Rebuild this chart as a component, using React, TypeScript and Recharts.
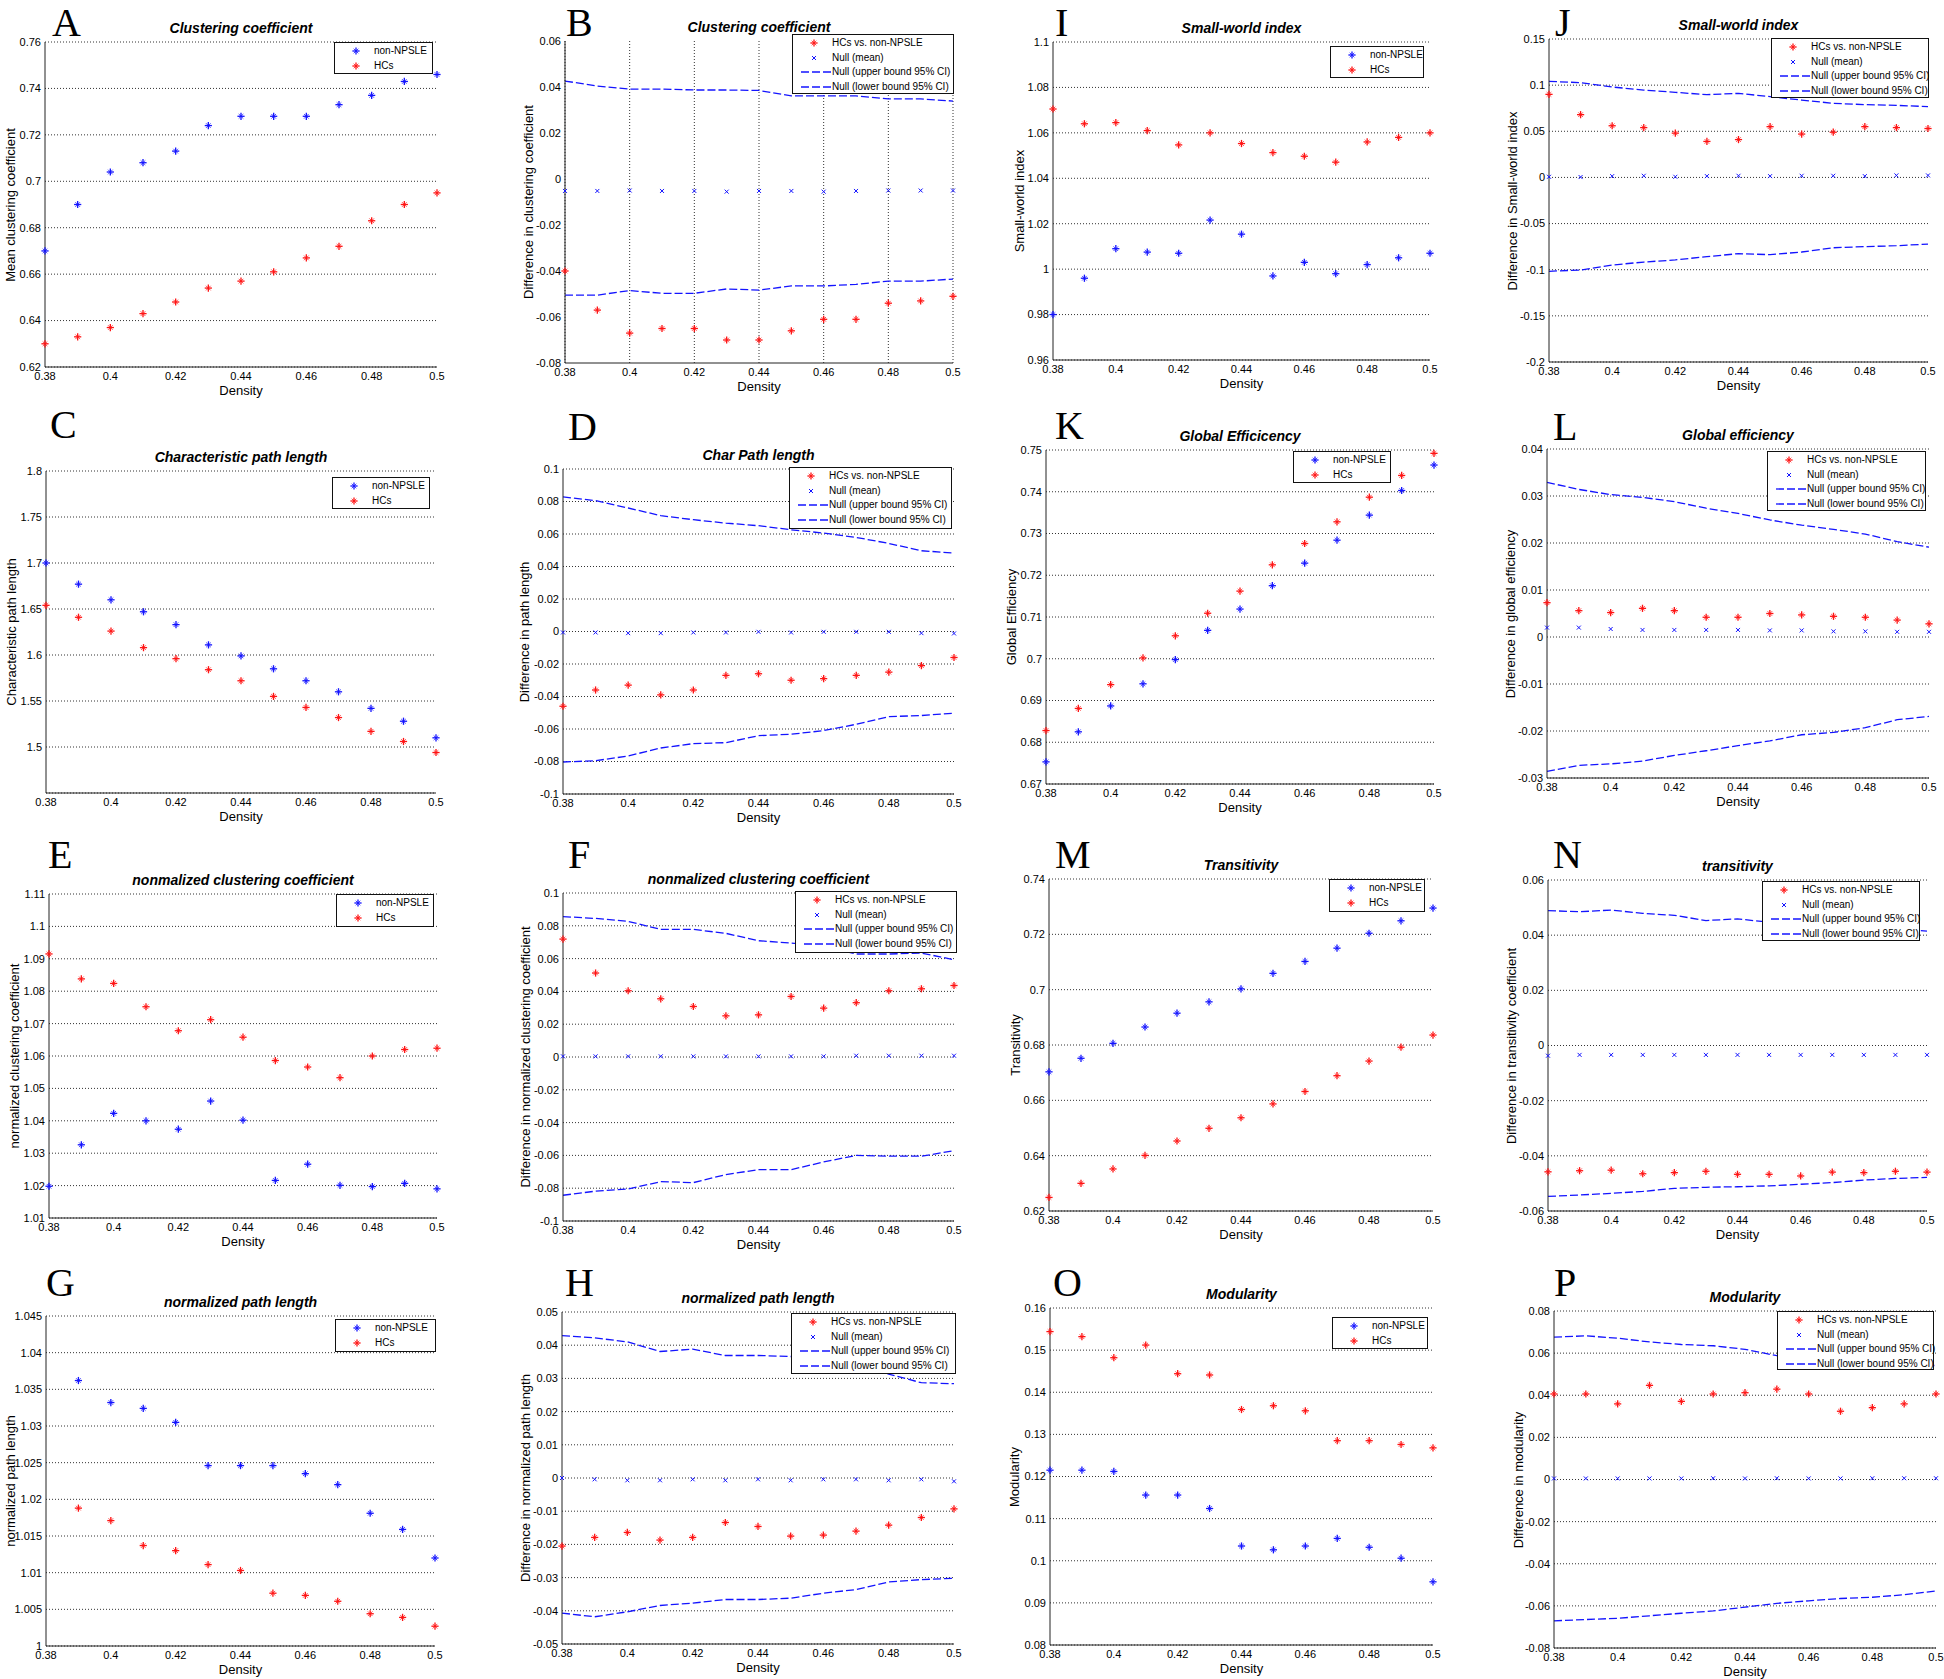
import React from "react";
import { ComposedChart, Scatter, Line, XAxis, YAxis, CartesianGrid } from "recharts";

const BLUE = "#1414ff";
const RED = "#ff1414";
const FONT = "'Liberation Sans', Arial, Helvetica, sans-serif";

// shared x values
const density = [0.38, 0.39, 0.4, 0.41, 0.42, 0.43, 0.44, 0.45, 0.46, 0.47, 0.48, 0.49, 0.5];
const densityTicks = [0.38, 0.4, 0.42, 0.44, 0.46, 0.48, 0.5];

// A / B  clustering coefficient
const clustNonNPSLE = [0.67, 0.69, 0.704, 0.708, 0.713, 0.724, 0.728, 0.728, 0.728, 0.733, 0.737, 0.743, 0.746];
const clustHCs = [0.63, 0.633, 0.637, 0.643, 0.648, 0.654, 0.657, 0.661, 0.667, 0.672, 0.683, 0.69, 0.695];
const clustTicks = [0.62, 0.64, 0.66, 0.68, 0.7, 0.72, 0.74, 0.76];
const clustDiff = [-0.04, -0.057, -0.067, -0.065, -0.065, -0.07, -0.07, -0.066, -0.061, -0.061, -0.054, -0.053, -0.051];
const clustNullMean = [-0.0052, -0.0052, -0.005, -0.0052, -0.0052, -0.0055, -0.0052, -0.0052, -0.0055, -0.0052, -0.005, -0.005, -0.005];
const clustNullUpper = [0.0426, 0.0404, 0.0391, 0.0391, 0.0387, 0.0387, 0.0385, 0.0361, 0.0361, 0.0361, 0.0348, 0.0348, 0.0339];
const clustNullLower = [-0.0505, -0.0505, -0.0485, -0.0497, -0.0497, -0.0478, -0.0483, -0.0465, -0.0465, -0.0458, -0.0444, -0.0444, -0.0435];
const clustDiffTicks = [-0.08, -0.06, -0.04, -0.02, 0, 0.02, 0.04, 0.06];

// I / J  small-world index
const swNonNPSLE = [0.98, 0.996, 1.009, 1.0075, 1.007, 1.0216, 1.0154, 0.997, 1.003, 0.998, 1.002, 1.005, 1.007];
const swHCs = [1.0705, 1.064, 1.0645, 1.061, 1.0547, 1.06, 1.0553, 1.0513, 1.0497, 1.0471, 1.056, 1.058, 1.06];
const swTicks = [0.96, 0.98, 1, 1.02, 1.04, 1.06, 1.08, 1.1];
const swDiff = [0.09, 0.068, 0.056, 0.054, 0.048, 0.039, 0.041, 0.055, 0.047, 0.049, 0.055, 0.054, 0.053];
const swNullMean = [0.0007, 0.0004, 0.0014, 0.0018, 0.0007, 0.0014, 0.0018, 0.0014, 0.0018, 0.0018, 0.0014, 0.0022, 0.0022];
const swNullUpper = [0.1041, 0.1027, 0.098, 0.0947, 0.0922, 0.0897, 0.0911, 0.0875, 0.0838, 0.0803, 0.0789, 0.0781, 0.0767];
const swNullLower = [-0.1017, -0.1003, -0.0949, -0.0917, -0.0894, -0.0858, -0.0826, -0.0837, -0.0808, -0.0762, -0.075, -0.074, -0.0722];
const swDiffTicks = [-0.2, -0.15, -0.1, -0.05, 0, 0.05, 0.1, 0.15];

// C / D  characteristic path length
const cplNonNPSLE = [1.7, 1.677, 1.66, 1.647, 1.633, 1.611, 1.599, 1.585, 1.572, 1.56, 1.542, 1.528, 1.51];
const cplHCs = [1.654, 1.641, 1.626, 1.608, 1.596, 1.584, 1.572, 1.555, 1.543, 1.532, 1.517, 1.506, 1.494];
const cplTicks = [1.5, 1.55, 1.6, 1.65, 1.7, 1.75, 1.8];
const cplDiff = [-0.046, -0.036, -0.033, -0.039, -0.036, -0.027, -0.026, -0.03, -0.029, -0.027, -0.025, -0.021, -0.016];
const cplNullMean = [-0.0006, -0.0006, -0.001, -0.001, -0.0006, -0.0006, -0.0002, -0.0006, -0.0002, -0.0002, -0.0002, -0.001, -0.0012];
const cplNullUpper = [0.0828, 0.0805, 0.076, 0.0713, 0.0688, 0.0667, 0.0651, 0.0626, 0.0606, 0.0579, 0.0542, 0.0497, 0.0483];
const cplNullLower = [-0.0803, -0.0795, -0.0766, -0.0717, -0.069, -0.0684, -0.0641, -0.0632, -0.061, -0.0571, -0.0524, -0.0517, -0.0503];
const tenthTicks = [-0.1, -0.08, -0.06, -0.04, -0.02, 0, 0.02, 0.04, 0.06, 0.08, 0.1];

// K / L  global efficiency
const geNonNPSLE = [0.6753, 0.6825, 0.6887, 0.694, 0.6998, 0.7068, 0.7119, 0.7175, 0.7229, 0.7284, 0.7344, 0.7403, 0.7464];
const geHCs = [0.6828, 0.6881, 0.6938, 0.7002, 0.7055, 0.7109, 0.7162, 0.7225, 0.7276, 0.7328, 0.7387, 0.7439, 0.7492];
const geTicks = [0.67, 0.68, 0.69, 0.7, 0.71, 0.72, 0.73, 0.74, 0.75];
const geDiff = [0.0073, 0.0056, 0.0052, 0.0061, 0.0056, 0.0042, 0.0042, 0.005, 0.0047, 0.0044, 0.0042, 0.0036, 0.0028];
const geNullMean = [0.002, 0.002, 0.0017, 0.0015, 0.0015, 0.0015, 0.0015, 0.0014, 0.0014, 0.0012, 0.0012, 0.0011, 0.0011];
const geNullUpper = [0.0329, 0.0314, 0.0303, 0.0297, 0.0288, 0.0274, 0.0263, 0.0249, 0.0238, 0.0229, 0.0219, 0.0203, 0.0191];
const geNullLower = [-0.0286, -0.0273, -0.027, -0.0264, -0.0252, -0.0242, -0.0231, -0.0221, -0.0208, -0.0203, -0.0193, -0.0176, -0.0169];
const geDiffTicks = [-0.03, -0.02, -0.01, 0, 0.01, 0.02, 0.03, 0.04];

// E / F  normalized clustering coefficient
const nccNonNPSLE = [1.0198, 1.0326, 1.0423, 1.04, 1.0374, 1.0461, 1.0402, 1.0216, 1.0266, 1.0201, 1.0197, 1.0207, 1.019];
const nccHCs = [1.0915, 1.0838, 1.0824, 1.0752, 1.0678, 1.0712, 1.0658, 1.0586, 1.0566, 1.0533, 1.06, 1.062, 1.0624];
const nccTicks = [1.01, 1.02, 1.03, 1.04, 1.05, 1.06, 1.07, 1.08, 1.09, 1.1, 1.11];
const nccDiff = [0.0719, 0.0512, 0.0404, 0.0355, 0.0308, 0.0251, 0.0257, 0.0369, 0.0298, 0.0331, 0.0404, 0.0416, 0.0436];
const nccNullMean = [0.0004, 0.0004, 0.0004, 0.0004, 0.0004, 0.0004, 0.0004, 0.0004, 0.0004, 0.0008, 0.0008, 0.0008, 0.0008];
const nccNullUpper = [0.0856, 0.0845, 0.0827, 0.0778, 0.0778, 0.0754, 0.0709, 0.0695, 0.0674, 0.0628, 0.0628, 0.0634, 0.0593];
const nccNullLower = [-0.0843, -0.0818, -0.0805, -0.076, -0.0766, -0.0717, -0.0687, -0.0687, -0.064, -0.06, -0.0605, -0.0605, -0.0571];

// M / N  transitivity
const transNonNPSLE = [0.6703, 0.6752, 0.6806, 0.6865, 0.6915, 0.6956, 0.7003, 0.7059, 0.7102, 0.715, 0.7204, 0.7249, 0.7295];
const transHCs = [0.6249, 0.63, 0.6352, 0.6401, 0.6453, 0.6499, 0.6537, 0.6587, 0.6632, 0.6689, 0.6742, 0.6792, 0.6836];
const transTicks = [0.62, 0.64, 0.66, 0.68, 0.7, 0.72, 0.74];
const transDiff = [-0.0458, -0.0454, -0.0452, -0.0465, -0.0461, -0.0456, -0.0467, -0.0467, -0.0473, -0.0459, -0.0461, -0.0456, -0.0459];
const transNullMean = [-0.0037, -0.0034, -0.0034, -0.0034, -0.0034, -0.0034, -0.0034, -0.0034, -0.0034, -0.0034, -0.0034, -0.0034, -0.0034];
const transNullUpper = [0.0489, 0.0485, 0.0491, 0.0479, 0.0472, 0.0453, 0.0459, 0.0447, 0.044, 0.0433, 0.0429, 0.0421, 0.0415];
const transNullLower = [-0.0547, -0.0542, -0.0536, -0.0529, -0.0518, -0.0514, -0.0512, -0.0509, -0.0503, -0.0497, -0.0488, -0.0482, -0.0478];
const transDiffTicks = [-0.06, -0.04, -0.02, 0, 0.02, 0.04, 0.06];

// G / H  normalized path length (no visible point at 0.38 in G)
const nplNonNPSLE = [null, 1.0362, 1.0332, 1.0324, 1.0305, 1.0246, 1.0246, 1.0246, 1.0235, 1.022, 1.0181, 1.0159, 1.012];
const nplHCs = [null, 1.0188, 1.0171, 1.0137, 1.013, 1.0111, 1.0103, 1.0072, 1.0069, 1.0061, 1.0044, 1.0039, 1.0027];
const nplTicks = [1, 1.005, 1.01, 1.015, 1.02, 1.025, 1.03, 1.035, 1.04, 1.045];
const nplDiff = [-0.0205, -0.0179, -0.0164, -0.0187, -0.0179, -0.0134, -0.0146, -0.0175, -0.0172, -0.016, -0.0142, -0.0119, -0.0093];
const nplNullMean = [0, -0.0004, -0.0007, -0.0007, -0.0004, -0.0007, -0.0004, -0.0007, -0.0004, -0.0004, -0.0007, -0.0004, -0.001];
const nplNullUpper = [0.0429, 0.0422, 0.041, 0.0381, 0.0388, 0.0369, 0.0369, 0.0366, 0.0358, 0.0354, 0.0313, 0.0287, 0.0284];
const nplNullLower = [-0.0407, -0.0418, -0.0403, -0.0384, -0.0377, -0.0366, -0.0366, -0.0362, -0.0347, -0.0336, -0.0313, -0.0306, -0.0302];
const nplDiffTicks = [-0.05, -0.04, -0.03, -0.02, -0.01, 0, 0.01, 0.02, 0.03, 0.04, 0.05];

// O / P  modularity
const modNonNPSLE = [0.1215, 0.1215, 0.1212, 0.1156, 0.1156, 0.1124, 0.1035, 0.1026, 0.1035, 0.1053, 0.1032, 0.1006, 0.095];
const modHCs = [0.1544, 0.1532, 0.1482, 0.1512, 0.1444, 0.1441, 0.1359, 0.1368, 0.1356, 0.1285, 0.1285, 0.1276, 0.1268];
const modTicks = [0.08, 0.09, 0.1, 0.11, 0.12, 0.13, 0.14, 0.15, 0.16];
const modDiff = [0.0406, 0.0406, 0.0359, 0.0447, 0.0371, 0.0406, 0.0412, 0.0429, 0.0406, 0.0324, 0.0341, 0.0359, 0.0406];
const modNullMean = [0.0005, 0.0005, 0.0005, 0.0005, 0.0005, 0.0006, 0.0005, 0.0006, 0.0005, 0.0005, 0.0006, 0.0006, 0.0006];
const modNullUpper = [0.0676, 0.0682, 0.0671, 0.0653, 0.0641, 0.0635, 0.0618, 0.0588, 0.0576, 0.0565, 0.0559, 0.0547, 0.0541];
const modNullLower = [-0.0671, -0.0665, -0.0659, -0.0647, -0.0635, -0.0624, -0.0606, -0.0588, -0.0576, -0.0565, -0.0559, -0.0547, -0.0529];
const modDiffTicks = [-0.08, -0.06, -0.04, -0.02, 0, 0.02, 0.04, 0.06, 0.08];

const fmt = (v: number) => String(parseFloat(v.toFixed(4)));

const AX_L = 60;
const AX_R = 14;
const AX_T = 10;
const AX_B = 24;

type Box = { x: number; y: number; w: number; h: number };
type Series = (number | null)[];

type PanelCfg = {
  letter: string;
  letterX: number;
  letterBase: number;
  title: string;
  yLabel: string;
  yLabelX: number;
  plot: Box;
  legend: Box;
  domain: [number, number];
  ticks: number[];
  blue?: Series;
  red: Series;
  mean?: Series;
  upper?: Series;
  lower?: Series;
  xGrid?: boolean;
};

function Asterisk({ cx, cy, color }: { cx?: number; cy?: number; color: string }) {
  if (cx == null || cy == null || isNaN(cx) || isNaN(cy)) return <g />;
  const a = 3.6;
  const d = 2.3;
  return (
    <g stroke={color} strokeWidth={1.3}>
      <line x1={cx - a} y1={cy} x2={cx + a} y2={cy} />
      <line x1={cx} y1={cy - a} x2={cx} y2={cy + a} />
      <line x1={cx - d} y1={cy - d} x2={cx + d} y2={cy + d} strokeWidth={0.8} />
      <line x1={cx - d} y1={cy + d} x2={cx + d} y2={cy - d} strokeWidth={0.8} />
    </g>
  );
}

function Cross({ cx, cy, color }: { cx?: number; cy?: number; color: string }) {
  if (cx == null || cy == null || isNaN(cx) || isNaN(cy)) return <g />;
  const d = 2;
  return (
    <g stroke={color} strokeWidth={1}>
      <line x1={cx - d} y1={cy - d} x2={cx + d} y2={cy + d} />
      <line x1={cx - d} y1={cy + d} x2={cx + d} y2={cy - d} />
    </g>
  );
}

type LegendItem = { mark: "star" | "cross" | "dash"; color: string; label: string };
const groupLegend: LegendItem[] = [
  { mark: "star", color: BLUE, label: "non-NPSLE" },
  { mark: "star", color: RED, label: "HCs" },
];
const diffLegend: LegendItem[] = [
  { mark: "star", color: RED, label: "HCs vs. non-NPSLE" },
  { mark: "cross", color: BLUE, label: "Null (mean)" },
  { mark: "dash", color: BLUE, label: "Null (upper bound 95% CI)" },
  { mark: "dash", color: BLUE, label: "Null (lower bound 95% CI)" },
];

function LegendBox({ box, items }: { box: Box; items: LegendItem[] }) {
  return (
    <div
      style={{
        position: "absolute",
        left: box.x,
        top: box.y,
        width: box.w,
        height: box.h,
        border: "1px solid #111",
        background: "#fff",
        boxSizing: "border-box",
      }}
    >
      {items.map((it, i) => (
        <div key={i} style={{ position: "absolute", left: 0, top: 8 + i * 14.5 - 7, width: "100%", height: 14 }}>
          <svg width={40} height={14} style={{ position: "absolute", left: 0, top: 0 }}>
            {it.mark === "star" && <Asterisk cx={21} cy={7} color={it.color} />}
            {it.mark === "cross" && <Cross cx={21} cy={7} color={it.color} />}
            {it.mark === "dash" && (
              <line x1={8} x2={38} y1={7} y2={7} stroke={it.color} strokeWidth={1.3} strokeDasharray="8 3" />
            )}
          </svg>
          <span style={{ position: "absolute", left: 39, top: 0, lineHeight: "14px", fontSize: 10, whiteSpace: "nowrap" }}>
            {it.label}
          </span>
        </div>
      ))}
    </div>
  );
}

const panels: PanelCfg[] = [
  {
    letter: "A", letterX: 52, letterBase: 36, title: "Clustering coefficient", yLabel: "Mean clustering coefficient", yLabelX: 10,
    plot: { x: 45, y: 42, w: 392, h: 325 }, legend: { x: 334, y: 42, w: 99, h: 32 },
    domain: [0.62, 0.76], ticks: clustTicks, blue: clustNonNPSLE, red: clustHCs,
  },
  {
    letter: "B", letterX: 566, letterBase: 36, title: "Clustering coefficient", yLabel: "Difference in clustering coefficient", yLabelX: 528,
    plot: { x: 565, y: 41, w: 388, h: 322 }, legend: { x: 792, y: 34, w: 162, h: 60 },
    domain: [-0.08, 0.06], ticks: clustDiffTicks, red: clustDiff, mean: clustNullMean, upper: clustNullUpper, lower: clustNullLower, xGrid: true,
  },
  {
    letter: "I", letterX: 1055, letterBase: 36, title: "Small-world index", yLabel: "Small-world index", yLabelX: 1019,
    plot: { x: 1053, y: 42, w: 377, h: 318 }, legend: { x: 1330, y: 46, w: 94, h: 32 },
    domain: [0.96, 1.1], ticks: swTicks, blue: swNonNPSLE, red: swHCs,
  },
  {
    letter: "J", letterX: 1555, letterBase: 36, title: "Small-world index", yLabel: "Difference in Small-world index", yLabelX: 1512,
    plot: { x: 1549, y: 39, w: 379, h: 323 }, legend: { x: 1771, y: 38, w: 158, h: 60 },
    domain: [-0.2, 0.15], ticks: swDiffTicks, red: swDiff, mean: swNullMean, upper: swNullUpper, lower: swNullLower,
  },
  {
    letter: "C", letterX: 50, letterBase: 438, title: "Characteristic path length", yLabel: "Characteristic path length", yLabelX: 11,
    plot: { x: 46, y: 471, w: 390, h: 322 }, legend: { x: 332, y: 477, w: 98, h: 32 },
    domain: [1.45, 1.8], ticks: cplTicks, blue: cplNonNPSLE, red: cplHCs,
  },
  {
    letter: "D", letterX: 568, letterBase: 440, title: "Char Path length", yLabel: "Difference in path length", yLabelX: 524,
    plot: { x: 563, y: 469, w: 391, h: 325 }, legend: { x: 789, y: 467, w: 163, h: 62 },
    domain: [-0.1, 0.1], ticks: tenthTicks, red: cplDiff, mean: cplNullMean, upper: cplNullUpper, lower: cplNullLower,
  },
  {
    letter: "K", letterX: 1055, letterBase: 439, title: "Global Efficicency", yLabel: "Global Efficiency", yLabelX: 1011,
    plot: { x: 1046, y: 450, w: 388, h: 334 }, legend: { x: 1293, y: 451, w: 98, h: 32 },
    domain: [0.67, 0.75], ticks: geTicks, blue: geNonNPSLE, red: geHCs,
  },
  {
    letter: "L", letterX: 1553, letterBase: 440, title: "Global efficiency", yLabel: "Difference in global efficiency", yLabelX: 1510,
    plot: { x: 1547, y: 449, w: 382, h: 329 }, legend: { x: 1767, y: 451, w: 159, h: 60 },
    domain: [-0.03, 0.04], ticks: geDiffTicks, red: geDiff, mean: geNullMean, upper: geNullUpper, lower: geNullLower,
  },
  {
    letter: "E", letterX: 48, letterBase: 868, title: "nonmalized clustering coefficient", yLabel: "normalized clustering coefficient", yLabelX: 14,
    plot: { x: 49, y: 894, w: 388, h: 324 }, legend: { x: 336, y: 894, w: 98, h: 33 },
    domain: [1.01, 1.11], ticks: nccTicks, blue: nccNonNPSLE, red: nccHCs,
  },
  {
    letter: "F", letterX: 568, letterBase: 868, title: "nonmalized clustering coefficient", yLabel: "Difference in normalized clustering coefficient", yLabelX: 525,
    plot: { x: 563, y: 893, w: 391, h: 328 }, legend: { x: 795, y: 891, w: 162, h: 62 },
    domain: [-0.1, 0.1], ticks: tenthTicks, red: nccDiff, mean: nccNullMean, upper: nccNullUpper, lower: nccNullLower,
  },
  {
    letter: "M", letterX: 1055, letterBase: 868, title: "Transitivity", yLabel: "Transitivity", yLabelX: 1015,
    plot: { x: 1049, y: 879, w: 384, h: 332 }, legend: { x: 1329, y: 879, w: 96, h: 33 },
    domain: [0.62, 0.74], ticks: transTicks, blue: transNonNPSLE, red: transHCs,
  },
  {
    letter: "N", letterX: 1553, letterBase: 868, title: "transitivity", yLabel: "Difference in transitivity coefficient", yLabelX: 1511,
    plot: { x: 1548, y: 880, w: 379, h: 331 }, legend: { x: 1762, y: 881, w: 158, h: 60 },
    domain: [-0.06, 0.06], ticks: transDiffTicks, red: transDiff, mean: transNullMean, upper: transNullUpper, lower: transNullLower,
  },
  {
    letter: "G", letterX: 46, letterBase: 1296, title: "normalized path length", yLabel: "normalized path length", yLabelX: 10,
    plot: { x: 46, y: 1316, w: 389, h: 330 }, legend: { x: 335, y: 1319, w: 101, h: 33 },
    domain: [1, 1.045], ticks: nplTicks, blue: nplNonNPSLE, red: nplHCs,
  },
  {
    letter: "H", letterX: 565, letterBase: 1296, title: "normalized path length", yLabel: "Difference in normalized path length", yLabelX: 525,
    plot: { x: 562, y: 1312, w: 392, h: 332 }, legend: { x: 791, y: 1313, w: 165, h: 61 },
    domain: [-0.05, 0.05], ticks: nplDiffTicks, red: nplDiff, mean: nplNullMean, upper: nplNullUpper, lower: nplNullLower,
  },
  {
    letter: "O", letterX: 1053, letterBase: 1296, title: "Modularity", yLabel: "Modularity", yLabelX: 1014,
    plot: { x: 1050, y: 1308, w: 383, h: 337 }, legend: { x: 1332, y: 1317, w: 96, h: 32 },
    domain: [0.08, 0.16], ticks: modTicks, blue: modNonNPSLE, red: modHCs,
  },
  {
    letter: "P", letterX: 1554, letterBase: 1296, title: "Modularity", yLabel: "Difference in modularity", yLabelX: 1518,
    plot: { x: 1554, y: 1311, w: 382, h: 337 }, legend: { x: 1777, y: 1311, w: 157, h: 59 },
    domain: [-0.08, 0.08], ticks: modDiffTicks, red: modDiff, mean: modNullMean, upper: modNullUpper, lower: modNullLower,
  },
];

function Panel({ p }: { p: PanelCfg }) {
  const rows = density.map((x, i) => ({
    x,
    blue: p.blue ? p.blue[i] : null,
    red: p.red[i],
    mean: p.mean ? p.mean[i] : null,
    upper: p.upper ? p.upper[i] : null,
    lower: p.lower ? p.lower[i] : null,
  }));
  const midX = p.plot.x + p.plot.w / 2;
  const midY = p.plot.y + p.plot.h / 2;
  const isDiff = !p.blue;
  const tickStyle = { fill: "#000", fontSize: 11 };

  return (
    <>
      <div style={{ position: "absolute", left: p.letterX, top: p.letterBase - 36, fontFamily: "'Liberation Serif', 'Times New Roman', serif", fontSize: 40, lineHeight: "46px" }}>
        {p.letter}
      </div>
      <div style={{ position: "absolute", left: midX, top: p.plot.y - 14, transform: "translate(-50%, -50%)", fontWeight: "bold", fontStyle: "italic", fontSize: 14, whiteSpace: "nowrap" }}>
        {p.title}
      </div>
      <div style={{ position: "absolute", left: p.plot.x - AX_L, top: p.plot.y - AX_T }}>
        <ComposedChart
          width={p.plot.w + AX_L + AX_R}
          height={p.plot.h + AX_T + AX_B}
          data={rows}
          margin={{ top: AX_T, right: AX_R, bottom: 0, left: 0 }}
        >
          <CartesianGrid horizontal={!p.xGrid} vertical={!!p.xGrid} stroke="#333" strokeDasharray="1 2" />
          <XAxis dataKey="x" type="number" domain={[0.38, 0.5]} ticks={densityTicks} interval={0} tickFormatter={fmt}
            height={AX_B} tickSize={0} tickMargin={5} stroke="#222" tick={tickStyle} />
          <YAxis type="number" domain={p.domain} ticks={p.ticks} interval={0} tickFormatter={fmt}
            width={AX_L} tickSize={0} tickMargin={4} stroke="#222" tick={tickStyle} />
          {!isDiff && (
            <Scatter name="non-NPSLE" dataKey="blue" isAnimationActive={false}
              shape={(s: any) => <Asterisk cx={s.cx} cy={s.cy} color={BLUE} />} />
          )}
          <Scatter name={isDiff ? "HCs vs. non-NPSLE" : "HCs"} dataKey="red" isAnimationActive={false}
            shape={(s: any) => <Asterisk cx={s.cx} cy={s.cy} color={RED} />} />
          {isDiff && (
            <Scatter name="Null (mean)" dataKey="mean" isAnimationActive={false}
              shape={(s: any) => <Cross cx={s.cx} cy={s.cy} color={BLUE} />} />
          )}
          {isDiff && (
            <Line dataKey="upper" stroke={BLUE} strokeWidth={1.3} strokeDasharray="8 3" dot={false} isAnimationActive={false} />
          )}
          {isDiff && (
            <Line dataKey="lower" stroke={BLUE} strokeWidth={1.3} strokeDasharray="8 3" dot={false} isAnimationActive={false} />
          )}
        </ComposedChart>
      </div>
      <LegendBox box={p.legend} items={isDiff ? diffLegend : groupLegend} />
      <div style={{ position: "absolute", left: p.yLabelX, top: midY, transform: "translate(-50%, -50%) rotate(-90deg)", fontSize: 13, whiteSpace: "nowrap" }}>
        {p.yLabel}
      </div>
      <div style={{ position: "absolute", left: midX, top: p.plot.y + p.plot.h + 23, transform: "translate(-50%, -50%)", fontSize: 13 }}>
        Density
      </div>
    </>
  );
}

export default function App() {
  return (
    <div style={{ position: "absolute", left: 0, top: 0, width: 1944, height: 1679, background: "#fff", fontFamily: FONT, color: "#000", overflow: "hidden" }}>
      {panels.map((p) => (
        <Panel key={p.letter} p={p} />
      ))}
    </div>
  );
}
